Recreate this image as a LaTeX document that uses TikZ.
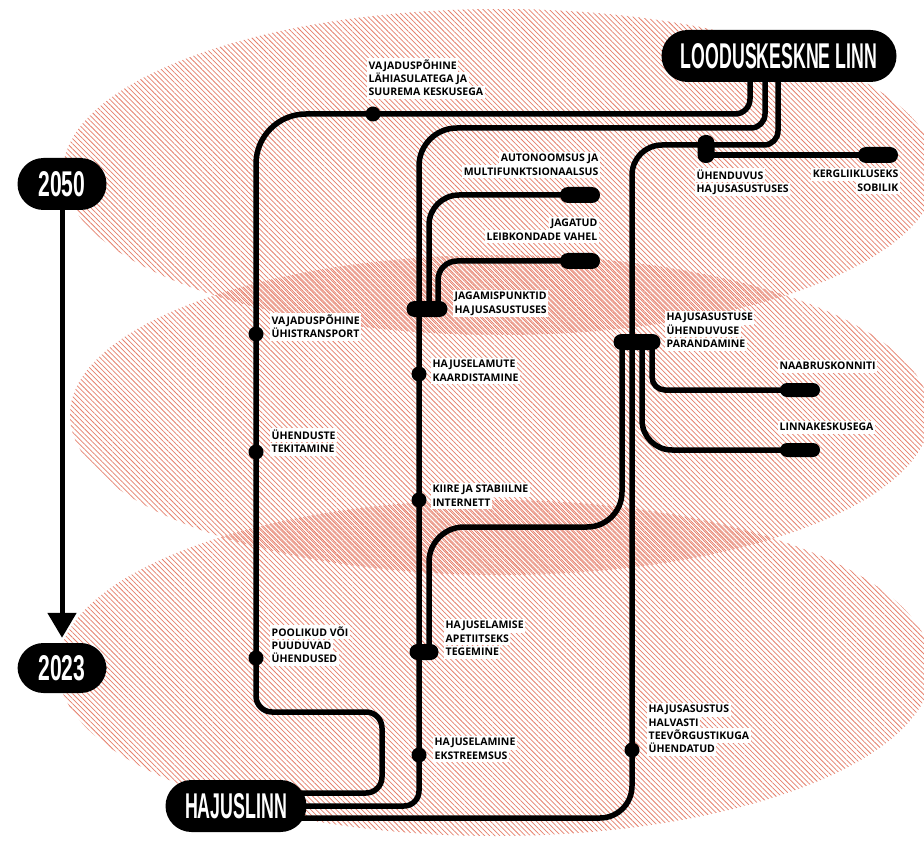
\documentclass[tikz,border=0pt]{standalone}
\usepackage{fontspec}
\usepackage{graphicx}
\usetikzlibrary{arrows.meta,positioning,patterns.meta}
\setmainfont{Open Sans}
\newfontfamily\titlefont{Liberation Sans}
\definecolor{hatch}{RGB}{230,128,108}
\setlength{\fboxsep}{1.5pt}
\newcommand{\hl}[1]{\colorbox{white}{\rule[-1.6pt]{0pt}{9.8pt}#1}}
\newcommand{\bigtxt}[2]{\resizebox{#1}{25pt}{\titlefont\bfseries #2}}
\pgfdeclarelayer{hatchlayer}
\pgfdeclarelayer{routelayer}
\pgfsetlayers{hatchlayer,routelayer,main}

\begin{document}
\begin{tikzpicture}[x=1pt, y=-1pt,
    route/.style={line width=5.5pt, line cap=butt},
    zone/.style={pattern={Lines[angle=-45, distance=3.6pt, line width=0.75pt]}, pattern color=hatch},
    pill/.style={fill=black, text=white, rounded corners=26pt, minimum height=52pt, inner sep=0pt},
    stn/.style={circle, fill=black, minimum size=15pt, inner sep=0pt},
    bar/.style={fill=black, rounded corners=8pt, minimum width=40pt, minimum height=16pt, inner sep=0pt},
    lbl/.style={inner sep=0pt, align=left, anchor=north west, font={\bfseries\fontsize{10.5}{13.3}\selectfont\lineskiplimit=-20pt}},
    lblr/.style={lbl, align=right, anchor=north east}
]
\useasboundingbox (0,0) rectangle (924,845);

% big end nodes
\node[pill, minimum width=235pt] (loodus) at (779,56) {\bigtxt{196pt}{LOODUSKESKNE LINN}};
\node[pill, minimum width=89pt] (y2050) at (62,184) {\bigtxt{47pt}{2050}};
\node[pill, minimum width=89pt, minimum height=50pt] (y2023) at (62,668) {\bigtxt{47pt}{2023}};
\node[pill, minimum width=141pt] (hajus) at (236,806) {\bigtxt{102pt}{HAJUSLINN}};

\draw[line width=5pt, -{Triangle[width=28pt, length=25pt]}, shorten >=5pt] (y2050) -- (y2023);

% stops
\node[stn] (dA0) at (373,114) {};
\node[stn] (dA1) at (256,334) {};
\node[stn] (dA2) at (256,452) {};
\node[stn] (dA3) at (256,658) {};
\node[stn] (dB1) at (419,374) {};
\node[stn] (dB2) at (419,500) {};
\node[stn] (dB3) at (419,755) {};
\node[stn] (dC1) at (632,750) {};

% bars
\node[bar] (bAuto) at (580,195) {};
\node[bar] (bJag) at (580,261) {};
\node[bar, minimum width=41pt] (bJagam) at (427,309) {};
\node[bar, minimum width=29pt] (bApet) at (424,652) {};
\node[bar, minimum width=17pt, minimum height=28pt] (bUhend) at (706,149) {};
\node[bar] (bKerg) at (878,155) {};
\node[bar, minimum width=47pt] (bHaj) at (637,342) {};
\node[bar, minimum height=14pt, rounded corners=7pt] (bNaab) at (800,390) {};
\node[bar, minimum height=14pt, rounded corners=7pt] (bLinn) at (800,450) {};

% labels
\node[lbl] (lA0) at (367,58) {\hl{VAJADUSPÕHINE}\\\hl{LÄHIASULATEGA JA}\\\hl{SUUREMA KESKUSEGA}};
\node[lbl] (lA1) at (270,313) {\hl{VAJADUSPÕHINE}\\\hl{ÜHISTRANSPORT}};
\node[lbl] (lA2) at (270,428) {\hl{ÜHENDUSTE}\\\hl{TEKITAMINE}};
\node[lbl] (lA3) at (270,625) {\hl{POOLIKUD VÕI}\\\hl{PUUDUVAD}\\\hl{ÜHENDUSED}};
\node[lblr] (lAuto) at (600,152) {\hl{AUTONOOMSUS JA}\\\hl{MULTIFUNKTSIONAALSUS}};
\node[lblr] (lJag) at (599,217) {\hl{JAGATUD}\\\hl{LEIBKONDADE VAHEL}};
\node[lbl] (lJagam) at (453,290) {\hl{JAGAMISPUNKTID}\\\hl{HAJUSASUSTUSES}};
\node[lbl] (lB1) at (431,358) {\hl{HAJUSELAMUTE}\\\hl{KAARDISTAMINE}};
\node[lbl] (lB2) at (431,483) {\hl{KIIRE JA STABIILNE}\\\hl{INTERNETT}};
\node[lbl] (lApet) at (444,619) {\hl{HAJUSELAMISE}\\\hl{APETIITSEKS}\\\hl{TEGEMINE}};
\node[lbl] (lB3) at (433,736) {\hl{HAJUSELAMINE}\\\hl{EKSTREEMSUS}};
\node[lbl] (lUhend) at (695,168) {\hl{ÜHENDUVUS}\\\hl{HAJUSASUSTUSES}};
\node[lblr] (lKerg) at (900,168) {\hl{KERGLIIKLUSEKS}\\\hl{SOBILIK}};
\node[lbl] (lHaj) at (665,311) {\hl{HAJUSASUSTUSE}\\\hl{ÜHENDUVUSE}\\\hl{PARANDAMINE}};
\node[lbl] (lNaab) at (778,360) {\hl{NAABRUSKONNITI}};
\node[lbl] (lLinn) at (778,421) {\hl{LINNAKESKUSEGA}};
\node[lbl] (lC1) at (647,703) {\hl{HAJUSASUSTUS}\\\hl{HALVASTI}\\\hl{TEEVÕRGUSTIKUGA}\\\hl{ÜHENDATUD}};

\begin{pgfonlayer}{routelayer}
% line A
\draw[route, rounded corners=16pt] ([yshift=13pt]hajus.center) -- (382,793) -- (382,712) -- (256,712) -- (dA2.center);
\draw[route, rounded corners=50pt] (dA2.center) -- (256,114) -- (dA0.center);
\draw[route, rounded corners=15pt] (dA0.center) -- ([xshift=-29pt]loodus.south |- dA0) -- ([xshift=-29pt]loodus.center);
% line B
\draw[route, rounded corners=14pt] ([xshift=-14pt]loodus.center) -- (765,128) -- (600,128);
\draw[route, rounded corners=38pt] (600,128) -- (419,128) -- (dB1.center);
\draw[route, rounded corners=15pt] (dB1.center) -- (dB3.center) -- (419,806) -- (hajus.center);
% line C
\draw[route, rounded corners=14pt] ([xshift=-1pt]loodus.center) -- (778,145) -- (706,145);
\draw[route, rounded corners=30pt] (706,145) -- (632,145) -- (dC1.center);
\draw[route, rounded corners=32pt] (dC1.center) -- (632,818) -- ([yshift=-12pt]hajus.center);
\draw[route] (bUhend.center |- bKerg) -- (bKerg.center);
% branches
\draw[route, rounded corners=30pt] (bAuto.center) -- (429,195) -- ([xshift=2pt]bJagam.center);
\draw[route, rounded corners=19pt] (bJag.center) -- (438,261) -- ([xshift=11pt]bJagam.center);
\draw[route, rounded corners=35pt] ([xshift=-15pt]bHaj.center) -- (622,527) -- (429,527) -- ([xshift=5pt]bApet.center);
\draw[route, rounded corners=30pt] ([xshift=5pt]bHaj.center) -- (642,450) -- (bLinn.center);
\draw[route, rounded corners=13pt] ([xshift=15pt]bHaj.center) -- (652,390) -- (bNaab.center);
\end{pgfonlayer}

\begin{pgfonlayer}{hatchlayer}
\clip (0,0) rectangle (924,845);
\fill[white] (0,0) rectangle (924,845);
\path[zone] (500,172) ellipse [x radius=437, y radius=163];
\path[zone, pattern={Lines[angle=-45, distance=3.6pt, line width=0.75pt, xshift=1.8pt]}] (500,415) ellipse [x radius=430, y radius=160];
\path[zone] (495,668) ellipse [x radius=437, y radius=168];
\end{pgfonlayer}
\end{tikzpicture}
\end{document}
